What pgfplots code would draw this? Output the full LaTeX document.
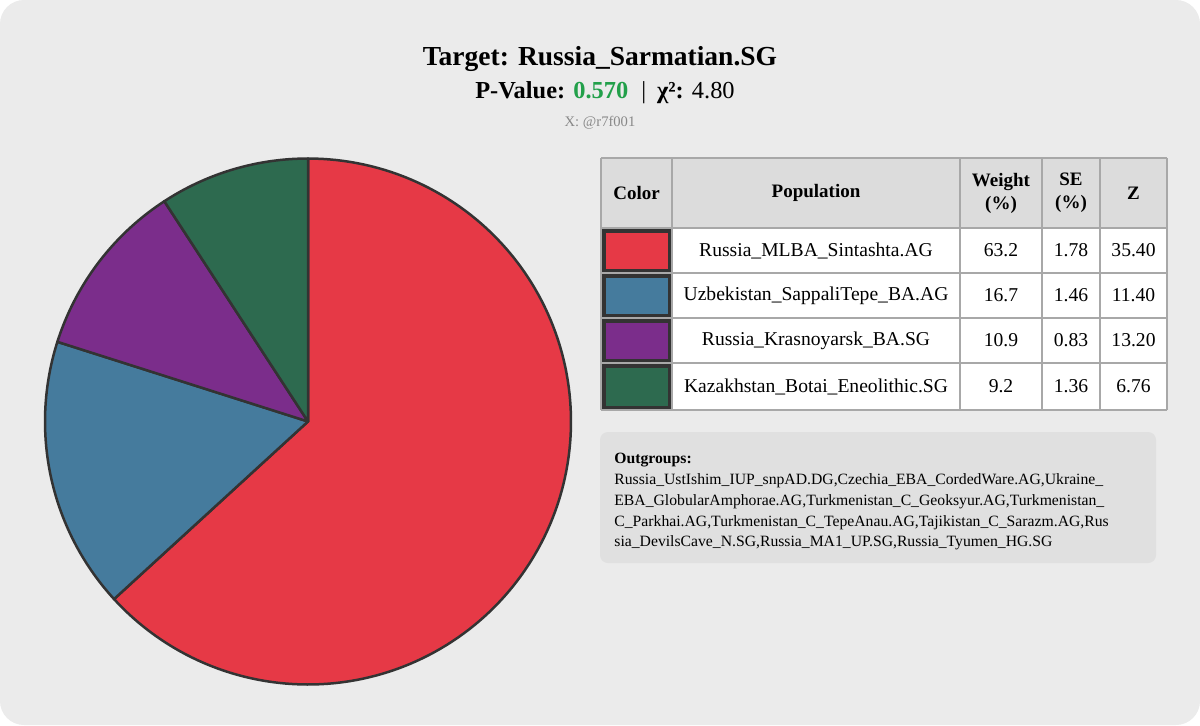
\documentclass[border=0pt]{standalone}
\usepackage{fontspec}
\setmainfont{Liberation Serif}
\usepackage{pgfplots}
\pgfplotsset{compat=1.18}
\definecolor{bg}{HTML}{EBEBEB}
\definecolor{cred}{HTML}{E63946}
\definecolor{cblue}{HTML}{457B9D}
\definecolor{cpurple}{HTML}{7B2D8B}
\definecolor{cgreen}{HTML}{2D6A4F}
\definecolor{edge}{HTML}{333333}
\definecolor{pgreen}{HTML}{22A04A}
\definecolor{gray7}{HTML}{888888}
\definecolor{hdr}{HTML}{DCDCDC}
\definecolor{gridc}{HTML}{A8A8A8}
\definecolor{obox}{HTML}{E0E0E0}
\begin{document}
\begin{tikzpicture}[x=0.5pt,y=-0.5pt]
% background
\fill[white] (0,0) rectangle (1200,725);
\fill[bg, rounded corners=12pt] (0,0) rectangle (1200,725);
% titles
\node[anchor=base, inner sep=0, font=\fontsize{13.75}{16}\selectfont\bfseries] at (600,65) {Target: Russia\_Sarmatian.SG};
\node[anchor=base, inner sep=0, font=\fontsize{12.2}{14}\selectfont] at (605,98) {\textbf{P-Value:} \textcolor{pgreen}{\textbf{0.570}}\hspace{6.5pt}|\hspace{5.5pt}\textbf{χ²:} 4.80};
\node[anchor=base, inner sep=0, font=\fontsize{7.3}{9}\selectfont, text=gray7] at (600,126) {X: @r7f001};
% pie data (weights in %)
\def\wA{63.2}\def\wB{16.7}\def\wC{10.9}\def\wD{9.2}
\pgfmathsetmacro\aA{90-3.6*\wA}
\pgfmathsetmacro\aB{\aA-3.6*\wB}
\pgfmathsetmacro\aC{\aB-3.6*\wC}
\pgfmathsetmacro\aD{\aC-3.6*\wD}
\begin{axis}[at={(154pt,-210.75pt)}, anchor=center, width=263pt, height=263pt,
  scale only axis, xmin=-1, xmax=1, ymin=-1, ymax=1, hide axis, clip=false]
\addplot[draw=edge, line width=1.25pt, line join=round, fill=cred, domain=\aA:90, samples=150] ({cos(x)},{sin(x)}) -- (axis cs:0,0) -- cycle;
\addplot[draw=edge, line width=1.25pt, line join=round, fill=cblue, domain=\aB:\aA, samples=60] ({cos(x)},{sin(x)}) -- (axis cs:0,0) -- cycle;
\addplot[draw=edge, line width=1.25pt, line join=round, fill=cpurple, domain=\aC:\aB, samples=40] ({cos(x)},{sin(x)}) -- (axis cs:0,0) -- cycle;
\addplot[draw=edge, line width=1.25pt, line join=round, fill=cgreen, domain=\aD:\aC, samples=40] ({cos(x)},{sin(x)}) -- (axis cs:0,0) -- cycle;
\end{axis}
% table
\fill[hdr] (601,158) rectangle (1167,228);
\fill[white] (672,228) rectangle (1167,410);
\foreach \c/\ya/\yb in {cred/228/273, cblue/273/318, cpurple/318/363, cgreen/363/410}{
  \filldraw[fill=\c, draw=edge, line width=2pt] (603.5,\ya+2.5) rectangle (670,\yb-2.5);
}
\foreach \y in {158,228,273,318,363,410}{\draw[gridc, line width=1pt] (601,\y) -- (1167,\y);}
\foreach \x in {601,672,960,1042,1100,1167}{\draw[gridc, line width=1pt] (\x,158) -- (\x,410);}
\begin{scope}[every node/.style={font=\fontsize{9.8}{11.5}\selectfont, inner sep=0, align=center}]
\node[font=\fontsize{9.5}{11.5}\selectfont\bfseries] at (636.5,193) {Color};
\node[font=\fontsize{9.5}{11.5}\selectfont\bfseries] at (816,193) {Population};
\node[font=\fontsize{9.5}{11.5}\selectfont\bfseries] at (1001,193) {Weight\\(\%)};
\node[font=\fontsize{9.5}{11.5}\selectfont\bfseries] at (1071,193) {SE\\(\%)};
\node[font=\fontsize{9.5}{11.5}\selectfont\bfseries] at (1133.5,193) {Z};
\foreach \y/\p/\w/\s/\z in {250.5/Russia\_MLBA\_Sintashta.AG/63.2/1.78/35.40,
  295.5/Uzbekistan\_SappaliTepe\_BA.AG/16.7/1.46/11.40,
  340.5/Russia\_Krasnoyarsk\_BA.SG/10.9/0.83/13.20,
  386.5/Kazakhstan\_Botai\_Eneolithic.SG/9.2/1.36/6.76}{
  \node at (816,\y) {\p};
  \node at (1001,\y) {\w};
  \node at (1071,\y) {\s};
  \node at (1133.5,\y) {\z};
}
\end{scope}
% outgroups
\fill[obox, rounded corners=4pt] (600,432) rectangle (1156,563);
\begin{scope}[every node/.style={anchor=base west, inner sep=0, font=\fontsize{7.85}{10}\selectfont}]
\node at (614,463) {\textbf{Outgroups:}};
\node at (614,484) {Russia\_UstIshim\_IUP\_snpAD.DG,Czechia\_EBA\_CordedWare.AG,Ukraine\_};
\node at (614,505) {EBA\_GlobularAmphorae.AG,Turkmenistan\_C\_Geoksyur.AG,Turkmenistan\_};
\node at (614,526) {C\_Parkhai.AG,Turkmenistan\_C\_TepeAnau.AG,Tajikistan\_C\_Sarazm.AG,Rus};
\node at (614,546) {sia\_DevilsCave\_N.SG,Russia\_MA1\_UP.SG,Russia\_Tyumen\_HG.SG};
\end{scope}
\end{tikzpicture}
\end{document}
